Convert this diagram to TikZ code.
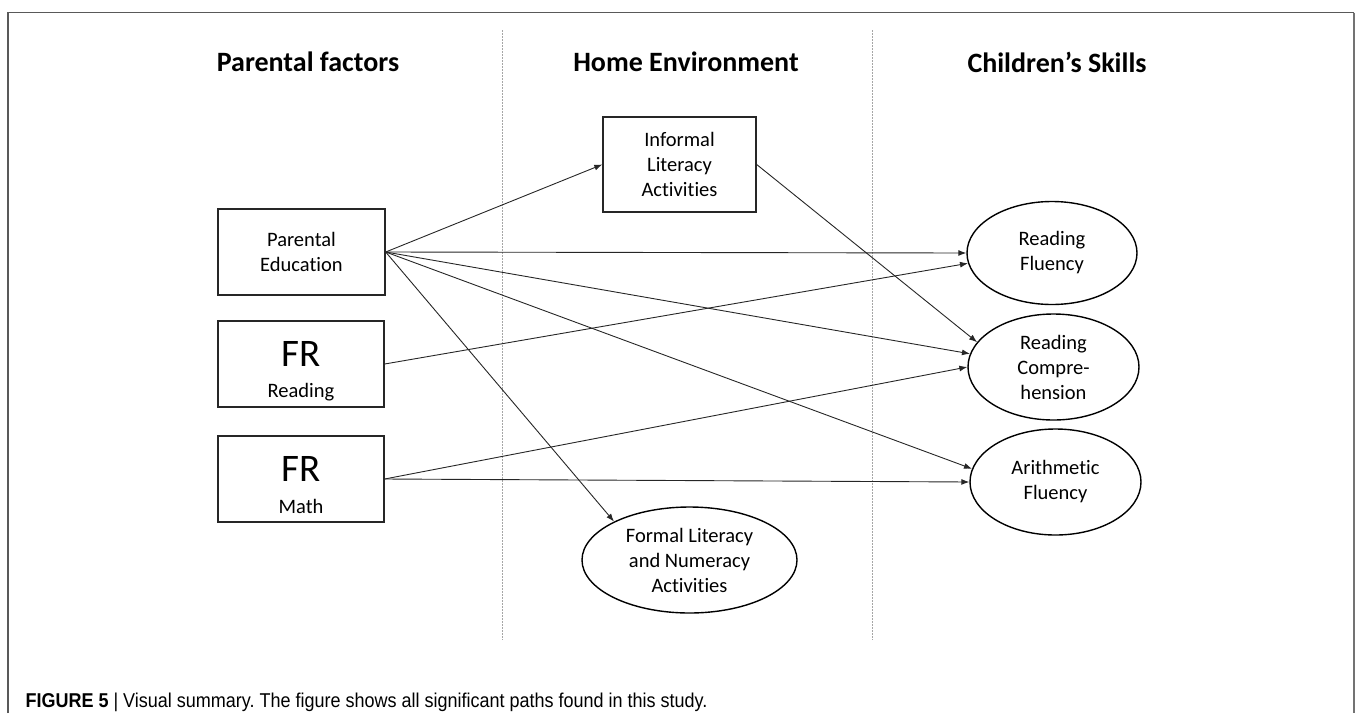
\documentclass[tikz,border=0pt]{standalone}
\usepackage{fontspec}
\setmainfont[Ligatures=NoCommon]{Carlito}
\newfontfamily\capfont[FakeStretch=0.9]{Liberation Sans}
\usetikzlibrary{arrows.meta,shapes.geometric}
\frenchspacing
\tikzset{
  box/.style={draw=black!85, line width=1.4pt, rectangle, inner sep=0pt, align=center,
    font=\fontsize{20.5}{25}\selectfont},
  oval/.style={draw=black, line width=1.4pt, ellipse, inner sep=0pt, align=center,
    font=\fontsize{20.5}{25}\selectfont},
  header/.style={font=\fontsize{28}{32}\selectfont\bfseries},
  bigfr/.style={font=\fontsize{39}{40}\selectfont},
  small/.style={font=\fontsize{20.5}{25}\selectfont},
  arr/.style={draw=black!85, line width=0.9pt, -{Latex[length=8pt,width=6pt]}},
  divider/.style={draw=black!35, line width=0.8pt, dash pattern=on 1.5pt off 1.5pt},
  frame/.style={draw=black!65, line width=1.6pt}
}
\begin{document}
\begin{tikzpicture}[x=1pt,y=-1pt]
\useasboundingbox (0,0) rectangle (1358,713);
% frame
\draw[frame] (8,713) -- (8,12.5) -- (1354,12.5);
\draw[frame, draw=black!55, line width=2.2pt] (1354,12.5) -- (1354,713);
% dividers
\draw[divider] (502,30) -- (502,640);
\draw[divider] (872,30) -- (872,640);
% headers
\node[header] (h1) at (308,62) {Parental factors};
\node[header] (h2) at (686,62) {Home Environment};
\node[header] (h3) at (1057,62) {Children’s Skills};
% left column
\node[box, minimum width=167pt, minimum height=86pt] (pe) at (301.5,252) {Parental\\Education};
\node[box, minimum width=166pt, minimum height=86pt] (frr) at (301,364) {};
\node[bigfr] (frrt) at ([yshift=10pt]frr.center) {FR};
\node[small] (frrs) at ([yshift=-28pt]frr.center) {Reading};
\node[box, minimum width=166pt, minimum height=86pt] (frm) at (301,479) {};
\node[bigfr] (frmt) at ([yshift=10pt]frm.center) {FR};
\node[small] (frms) at ([yshift=-27pt]frm.center) {Math};
% middle column
\node[box, minimum width=153pt, minimum height=95pt] (inf) at (679.5,164.5) {Informal\\Literacy\\Activities};
\node[oval, minimum width=215pt, minimum height=106pt] (fo) at (689.5,560) {Formal Literacy\\and Numeracy\\Activities};
% right column
\node[oval, minimum width=170pt, minimum height=103pt] (rf) at (1052,253) {Reading\\Fluency};
\node[oval, minimum width=171pt, minimum height=106pt] (rc) at (1053.5,367) {Reading\\Compre-\\hension};
\node[oval, minimum width=171pt, minimum height=106pt] (af) at (1055.5,482) {Arithmetic\\Fluency};
% connectors
\draw[arr] (pe.east) -- (inf.west);
\draw[arr] (pe.east) -- (rf.west);
\draw[arr] (pe.east) -- (rc.171);
\draw[arr] (pe.east) -- (af.171);
\draw[arr] (pe.east) -- (fo.153);
\draw[arr] (frr.east) -- (rf.187);
\draw[arr] (frm.east) -- (rc.west);
\draw[arr] (frm.east) -- (af.west);
\draw[arr] (inf.east) -- (rc.162);
% caption
\node[anchor=west, font=\capfont\fontsize{20}{22}\selectfont] (cap) at (22,702)
  {\textbf{FIGURE 5} | Visual summary. The figure shows all significant paths found in this study.};
\end{tikzpicture}
\end{document}
